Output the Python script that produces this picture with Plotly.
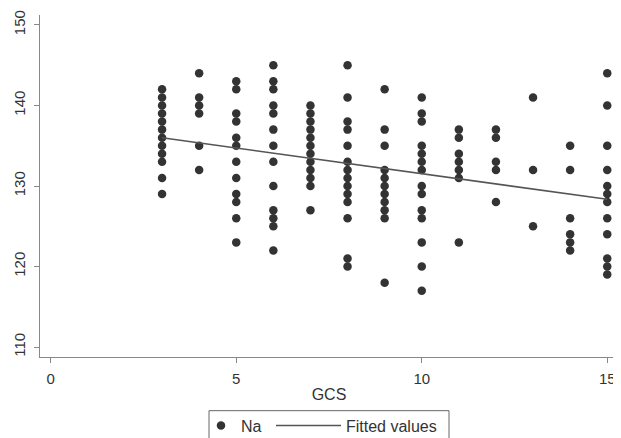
import numpy as np
import plotly.graph_objects as go

# GCS value -> list of Na values observed
gcs_levels = [3, 4, 5, 6, 7, 8, 9, 10, 11, 12, 13, 14, 15]
na_values = [
    [142, 141, 140, 139, 138, 137, 136, 135, 134, 133, 131, 129],
    [144, 141, 140, 139, 135, 132],
    [143, 142, 139, 138, 136, 135, 133, 131, 129, 128, 126, 123],
    [145, 143, 142, 140, 139, 137, 135, 133, 130, 127, 126, 125, 122],
    [140, 139, 138, 137, 136, 135, 134, 133, 132, 131, 130, 127],
    [145, 141, 138, 137, 135, 133, 132, 131, 130, 129, 128, 126, 121, 120],
    [142, 137, 135, 132, 131, 130, 129, 128, 127, 126, 118],
    [141, 139, 138, 135, 134, 133, 132, 130, 129, 127, 126, 123, 120, 117],
    [137, 136, 134, 133, 132, 131, 123],
    [137, 136, 133, 132, 128],
    [141, 132, 125],
    [135, 132, 126, 124, 123, 122],
    [144, 140, 135, 132, 130, 129, 128, 126, 124, 121, 120, 119],
]
x_ticks = [0, 5, 10, 15]
y_ticks = [110, 120, 130, 140, 150]

xs = [g for g, vals in zip(gcs_levels, na_values) for _ in vals]
ys = [v for vals in na_values for v in vals]

slope, intercept = np.polyfit(xs, ys, 1)
fit_x = [min(xs), max(xs)]
fit_y = [intercept + slope * v for v in fit_x]

fig = go.Figure()
fig.add_trace(go.Scatter(
    x=xs, y=ys, mode="markers", name="Na", legend="legend",
    marker=dict(size=8.5, color="#333333", line=dict(width=0)),
    cliponaxis=False,
))
fig.add_trace(go.Scatter(
    x=fit_x, y=fit_y, mode="lines", name="Fitted values", legend="legend2",
    line=dict(color="#555555", width=1.6),
))

axis_common = dict(
    showgrid=False, zeroline=False, showline=True, linecolor="#888888",
    linewidth=1.2, ticks="outside", ticklen=5, tickcolor="#888888",
    tickfont=dict(size=15, color="#333333"), automargin=False,
)

# the page places the figure 8px in from the top-left corner
OFF = 8
W, H = 621 - OFF, 438
PLOT_L, PLOT_R, PLOT_T, PLOT_B = 40 - OFF, 618 - OFF, 15 - OFF, 359 - OFF
pw, ph = PLOT_R - PLOT_L, PLOT_B - PLOT_T


def px_x(p):
    return (p - OFF - PLOT_L) / pw


def px_y(p):
    return (PLOT_B - (p - OFF)) / ph


legend_font = dict(size=16, color="#333333")
fig.update_layout(
    width=W, height=H,
    margin=dict(l=PLOT_L, r=W - PLOT_R, t=PLOT_T, b=H - PLOT_B),
    paper_bgcolor="white", plot_bgcolor="white",
    font=dict(family="Liberation Sans, Arial, sans-serif", color="#333333"),
    showlegend=True,
    legend=dict(
        orientation="h", x=px_x(201), xanchor="left", y=px_y(428), yanchor="middle",
        borderwidth=0, font=legend_font, itemwidth=30, bgcolor="rgba(0,0,0,0)",
    ),
    legend2=dict(
        orientation="h", x=px_x(271), xanchor="left", y=px_y(428), yanchor="middle",
        borderwidth=0, font=legend_font, itemwidth=65, bgcolor="rgba(0,0,0,0)",
    ),
    shapes=[dict(
        type="rect", xref="paper", yref="paper",
        x0=px_x(209), x1=px_x(449), y0=px_y(413), y1=px_y(446),
        line=dict(color="#666666", width=1), fillcolor="rgba(0,0,0,0)",
        layer="above",
    )],
    xaxis=dict(
        range=[-0.29, 15.29], tickvals=x_ticks, ticklabelstandoff=3,
        title=dict(text="GCS", font=dict(size=16, color="#333333"), standoff=2),
        **axis_common,
    ),
    yaxis=dict(
        range=[108.77, 151.23], tickvals=y_ticks, tickangle=-90,
        ticklabelstandoff=3,
        **axis_common,
    ),
)

fig.write_html("out.html")
